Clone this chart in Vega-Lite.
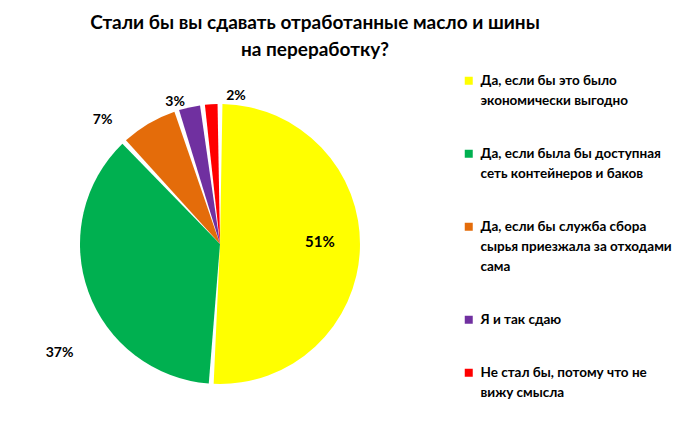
{
  "$schema": "https://vega.github.io/schema/vega-lite/v6.json",
  "background": "white",
  "width": 440,
  "height": 352,
  "padding": {"left": 0, "top": 14, "right": 0, "bottom": 0},
  "title": {
    "text": ["Стали бы вы сдавать отработанные масло и шины", "на переработку?"],
    "font": "Lato",
    "fontSize": 19,
    "fontWeight": "bold",
    "color": "black",
    "lineHeight": 27,
    "anchor": "middle",
    "frame": "bounds",
    "dx": -24,
    "offset": 8
  },
  "data": {
    "values": [
      {"answer": "Да, если бы это было\nэкономически выгодно", "share": 0.51},
      {"answer": "Да, если была бы доступная\nсеть контейнеров и баков", "share": 0.37},
      {"answer": "Да, если бы служба сбора\nсырья приезжала за отходами\nсама", "share": 0.07},
      {"answer": "Я и так сдаю", "share": 0.03},
      {"answer": "Не стал бы, потому что не\nвижу смысла", "share": 0.02}
    ]
  },
  "encoding": {
    "theta": {"field": "share", "type": "quantitative", "stack": true},
    "order": {"field": "share", "sort": "descending"}
  },
  "layer": [
    {
      "mark": {"type": "arc", "radius": 140, "padAngle": 0.035},
      "encoding": {
        "color": {
          "field": "answer",
          "type": "nominal",
          "scale": {
            "domain": [
              "Да, если бы это было\nэкономически выгодно",
              "Да, если была бы доступная\nсеть контейнеров и баков",
              "Да, если бы служба сбора\nсырья приезжала за отходами\nсама",
              "Я и так сдаю",
              "Не стал бы, потому что не\nвижу смысла"
            ],
            "range": ["#FFFF00", "#00B050", "#E46C0A", "#7030A0", "#FF0000"]
          },
          "legend": {
            "title": null,
            "orient": "right",
            "offset": 16,
            "padding": 6,
            "symbolType": "square",
            "symbolSize": 64,
            "symbolStrokeWidth": 0,
            "labelFont": "Lato",
            "labelFontSize": 13.5,
            "labelFontWeight": "bold",
            "labelColor": "black",
            "labelLimit": 260,
            "labelOffset": 5,
            "rowPadding": 38,
            "labelExpr": "split(datum.label, '\\n')"
          }
        }
      }
    },
    {
      "mark": {"type": "text", "radius": 100, "dy": -5, "font": "Lato", "fontSize": 15, "fontWeight": "bold", "color": "black"},
      "encoding": {
        "text": {"condition": {"test": "datum.share > 0.4", "field": "share", "type": "quantitative", "format": ".0%"}, "value": ""}
      }
    },
    {
      "mark": {"type": "text", "radius": 162, "dx": -8, "dy": 54, "font": "Lato", "fontSize": 14, "fontWeight": "bold", "color": "black"},
      "encoding": {
        "text": {"condition": {"test": "datum.share > 0.3 && datum.share < 0.4", "field": "share", "type": "quantitative", "format": ".0%"}, "value": ""}
      }
    },
    {
      "mark": {"type": "text", "radius": 160, "dx": -36, "dy": 14, "font": "Lato", "fontSize": 14, "fontWeight": "bold", "color": "black"},
      "encoding": {
        "text": {"condition": {"test": "datum.share == 0.07", "field": "share", "type": "quantitative", "format": ".0%"}, "value": ""}
      }
    },
    {
      "mark": {"type": "text", "radius": 160, "dx": -10, "dy": 14, "font": "Lato", "fontSize": 14, "fontWeight": "bold", "color": "black"},
      "encoding": {
        "text": {"condition": {"test": "datum.share == 0.03", "field": "share", "type": "quantitative", "format": ".0%"}, "value": ""}
      }
    },
    {
      "mark": {"type": "text", "radius": 160, "dx": 26, "dy": 12, "font": "Lato", "fontSize": 14, "fontWeight": "bold", "color": "black"},
      "encoding": {
        "text": {"condition": {"test": "datum.share == 0.02", "field": "share", "type": "quantitative", "format": ".0%"}, "value": ""}
      }
    }
  ],
  "view": {"stroke": null},
  "config": {
    "style": {"guide-label": {"lineHeight": 20}}
  }
}
